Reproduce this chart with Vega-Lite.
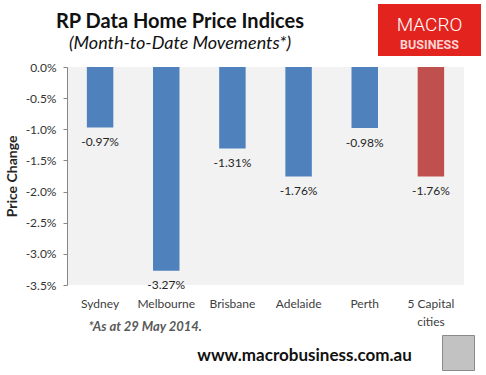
{
  "$schema": "https://vega.github.io/schema/vega-lite/v6.json",
  "padding": {"left": 5, "top": 4, "right": 0, "bottom": 0},
  "background": "white",
  "config": {
    "view": {"stroke": null},
    "font": "Lato",
    "locale": {"number": {"decimal": ".", "thousands": ",", "grouping": [3], "currency": ["$", ""], "minus": "-"}}
  },
  "bounds": "full",
  "spacing": 1,
  "vconcat": [
    {
      "bounds": "flush",
      "spacing": 85,
      "hconcat": [
        {
          "width": 226,
          "height": 56,
          "layer": [
            {
              "data": {"values": [{"t": "RP Data Home Price Indices"}]},
              "mark": {"type": "text", "fontSize": 20, "fontWeight": "bold", "color": "#111111", "baseline": "alphabetic", "dy": -4},
              "encoding": {"text": {"field": "t", "type": "nominal"}}
            },
            {
              "data": {"values": [{"t": "(Month-to-Date Movements*)"}]},
              "mark": {"type": "text", "fontSize": 18, "fontStyle": "italic", "color": "#111111", "baseline": "alphabetic", "dy": 17},
              "encoding": {"text": {"field": "t", "type": "nominal"}}
            }
          ]
        },
        {
          "width": 103,
          "height": 52,
          "view": {"fill": "#E3231E"},
          "layer": [
            {
              "data": {"values": [{"t": "MACRO"}]},
              "mark": {"type": "text", "font": "Roboto", "fontSize": 19, "fontWeight": 300, "color": "#FFFFFF", "baseline": "alphabetic", "dy": 1},
              "encoding": {"text": {"field": "t", "type": "nominal"}}
            },
            {
              "data": {"values": [{"t": "BUSINESS"}]},
              "mark": {"type": "text", "font": "Roboto", "fontSize": 12.5, "fontWeight": "bold", "color": "#FAD4D4", "baseline": "alphabetic", "dy": 18.5},
              "encoding": {"text": {"field": "t", "type": "nominal"}}
            }
          ]
        }
      ]
    },
    {
      "width": 397,
      "height": 218,
      "view": {"fill": "#F2F2F2"},
      "data": {
        "values": [
          {"city": "Sydney", "change": -0.0097, "group": "city"},
          {"city": "Melbourne", "change": -0.0327, "group": "city"},
          {"city": "Brisbane", "change": -0.0131, "group": "city"},
          {"city": "Adelaide", "change": -0.0176, "group": "city"},
          {"city": "Perth", "change": -0.0098, "group": "city"},
          {"city": "5 Capital cities", "change": -0.0176, "group": "all"}
        ]
      },
      "encoding": {
        "x": {
          "field": "city", "type": "nominal", "sort": null,
          "scale": {"paddingInner": 0, "paddingOuter": 0},
          "axis": {
            "orient": "bottom", "domain": false, "ticks": false, "grid": false,
            "labelPadding": 13, "labelAngle": 0, "labelFontSize": 12, "labelColor": "#404040",
            "labelLineHeight": 18,
            "labelExpr": "datum.label == '5 Capital cities' ? ['5 Capital', 'cities'] : datum.label",
            "title": "*As at 29 May 2014.", "titleX": 21, "titleY": 45, "titleAlign": "left",
            "titleBaseline": "alphabetic", "titleFontSize": 13, "titleFontWeight": "bold",
            "titleFontStyle": "italic", "titleColor": "#595959"
          }
        },
        "y": {
          "field": "change", "type": "quantitative",
          "scale": {"domain": [-0.035, 0], "nice": false},
          "axis": {
            "values": [0, -0.005, -0.01, -0.015, -0.02, -0.025, -0.03, -0.035],
            "format": ".1%", "grid": false, "labelOverlap": false, "labelFlush": false,
            "domainColor": "#868686", "tickColor": "#868686", "tickSize": 4,
            "labelPadding": 7, "labelFontSize": 12, "labelColor": "#333333",
            "title": "Price Change", "titleFontSize": 14, "titleFontWeight": "bold",
            "titleColor": "#262626", "titlePadding": 6
          }
        }
      },
      "layer": [
        {
          "mark": {"type": "bar", "width": {"band": 0.4}},
          "encoding": {
            "color": {
              "field": "group", "type": "nominal",
              "scale": {"domain": ["city", "all"], "range": ["#4F81BD", "#C0504D"]},
              "legend": null
            }
          }
        },
        {
          "mark": {"type": "text", "baseline": "middle", "dy": 14.5, "fontSize": 12, "color": "#262626"},
          "encoding": {
            "text": {"field": "change", "type": "quantitative", "format": ".2%"}
          }
        },
        {
          "mark": {"type": "rule", "color": "#868686", "strokeWidth": 1},
          "encoding": {"y": {"datum": 0}}
        }
      ]
    },
    {
      "bounds": "flush",
      "spacing": 10,
      "hconcat": [
        {
          "width": 365,
          "height": 35,
          "data": {"values": [{"t": "www.macrobusiness.com.au"}]},
          "mark": {"type": "text", "fontSize": 17, "fontWeight": "bold", "color": "#111111", "baseline": "alphabetic", "dx": 55, "dy": 8.5},
          "encoding": {"text": {"field": "t", "type": "nominal"}}
        },
        {
          "width": 32,
          "height": 35,
          "view": {"fill": "#C2C2C2", "stroke": "#8A8A8A"},
          "data": {"values": [{"t": ""}]},
          "mark": {"type": "text"},
          "encoding": {"text": {"field": "t", "type": "nominal"}}
        }
      ]
    }
  ]
}
